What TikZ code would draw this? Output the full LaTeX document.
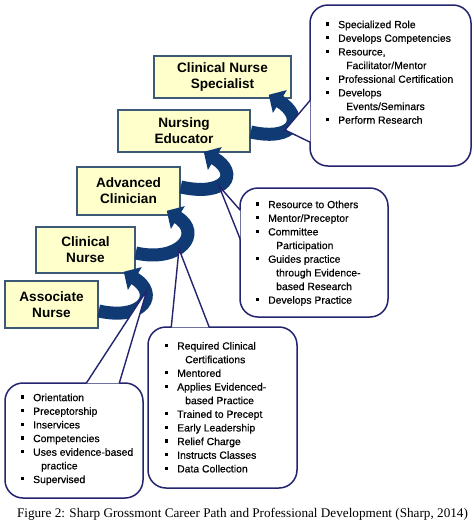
\documentclass[tikz,border=0pt]{standalone}
\usepackage{fontspec}
\setmainfont{Liberation Sans}
\newfontfamily\listfont[FakeBold=0.5]{Liberation Sans}
\newfontfamily\capfont{Liberation Serif}
\usetikzlibrary{arrows.meta,calc}
\definecolor{boxfill}{RGB}{255,255,204}
\definecolor{boxline}{RGB}{60,90,120}
\definecolor{arrowblue}{RGB}{16,58,115}
\definecolor{callline}{RGB}{35,35,110}
\newcommand\bl{\rule[2.6pt]{3.2pt}{3.2pt}}
\newcommand\ct{\hspace*{8pt}}
\begin{document}
\begin{tikzpicture}[x=1pt,y=-1pt,
  stagebox/.style={draw=boxline,line width=1.5pt,fill=boxfill,align=center,
    font=\bfseries\fontsize{13.6}{16}\selectfont,inner sep=0pt},
  flow/.style={draw=arrowblue,line width=13pt,-{Triangle[width=26pt,length=13pt]}},
  callout/.style={draw=callline,line width=1.5pt,fill=white,rounded corners=18pt,inner sep=0pt},
  pointer/.style={draw=callline,fill=white,line width=1.4pt,line join=miter},
  listtext/.style={anchor=north west,inner sep=0pt,font=\listfont\fontsize{10.4}{13.65}\selectfont}
]
\useasboundingbox (0,0) rectangle (474,520);

% stage boxes
\node[stagebox,minimum width=137pt,minimum height=42pt] (cns) at (222.5,77) {Clinical Nurse\\Specialist};
\node[stagebox,minimum width=132pt,minimum height=42pt] (ne) at (184,131) {Nursing\\Educator};
\node[stagebox,minimum width=103pt,minimum height=48pt] (ac) at (128.5,191) {Advanced\\Clinician};
\node[stagebox,minimum width=99pt,minimum height=46pt] (cn) at (85.5,250) {Clinical\\Nurse};
\node[stagebox,minimum width=93pt,minimum height=47pt] (an) at (51.5,304.5) {Associate\\Nurse};

% curved arrows
\coordinate (s1) at ($(an.east)+(0,6.5)$);  \coordinate (e1) at ($(cn.south east)+(-12,-2)$);
\coordinate (s2) at ($(cn.east)+(0,3)$);    \coordinate (e2) at ($(ac.south east)+(-14,-5)$);
\coordinate (s3) at ($(ac.east)+(0,-4)$);   \coordinate (e3) at ($(ne.south east)+(-47,-1)$);
\coordinate (s4) at ($(ne.east)+(0,1)$);    \coordinate (e4) at ($(cns.south east)+(-23,-4)$);
\foreach \i in {1,2,3,4}{
  \draw[flow] (s\i) .. controls ($(s\i)+(45,10)$) and ($(e\i)+(36,22)$) .. (e\i);
}

% callouts
\node[callout,minimum width=161pt,minimum height=161pt] (tr) at (390.5,85.5) {};
\node[callout,minimum width=148pt,minimum height=129pt] (mr) at (314,252.5) {};
\node[callout,minimum width=149pt,minimum height=161pt] (ml) at (222.5,407.5) {};
\node[callout,minimum width=138pt,minimum height=115pt] (bl) at (74,440.5) {};

\coordinate (ptr) at (285,130);
\coordinate (pmr) at (219,186);
\coordinate (pml) at (179,249);
\coordinate (pbl) at (147,290);

\filldraw[pointer] ($(tr.north west)+(1,96)$) -- (ptr) -- ($(tr.north west)+(1,138)$);
\filldraw[pointer] ($(mr.north west)+(1,23)$) -- (pmr) -- ($(mr.north west)+(1,52)$);
\filldraw[pointer] ($(ml.north west)+(24,1)$) -- (pml) -- ($(ml.north west)+(62,1)$);
\filldraw[pointer] ($(bl.north west)+(82,1)$) -- (pbl) -- ($(bl.north west)+(115,1)$);

% callout texts
\node[listtext] (trt) at (326,18.4) {\begin{tabular}{@{}p{12pt}@{}l@{}}
\bl & Specialized Role\\
\bl & Develops Competencies\\
\bl & Resource,\\
    & \ct Facilitator/Mentor\\
\bl & Professional Certification\\
\bl & Develops\\
    & \ct Events/Seminars\\
\bl & Perform Research
\end{tabular}};
\node[listtext] (mrt) at (256,198.4) {\begin{tabular}{@{}p{12pt}@{}l@{}}
\bl & Resource to Others\\
\bl & Mentor/Preceptor\\
\bl & Committee\\
    & \ct Participation\\
\bl & Guides practice\\
    & \ct through Evidence-\\
    & \ct based Research\\
\bl & Develops Practice
\end{tabular}};
\node[listtext] (mlt) at (165,339.8) {\begin{tabular}{@{}p{12pt}@{}l@{}}
\bl & Required Clinical\\
    & \ct Certifications\\
\bl & Mentored\\
\bl & Applies Evidenced-\\
    & \ct based Practice\\
\bl & Trained to Precept\\
\bl & Early Leadership\\
\bl & Relief Charge\\
\bl & Instructs Classes\\
\bl & Data Collection
\end{tabular}};
\node[listtext] (blt) at (21,391.4) {\begin{tabular}{@{}p{12pt}@{}l@{}}
\bl & Orientation\\
\bl & Preceptorship\\
\bl & Inservices\\
\bl & Competencies\\
\bl & Uses evidence-based\\
    & \ct practice\\
\bl & Supervised
\end{tabular}};

% caption
\node[anchor=base,inner sep=0pt,font=\capfont\fontsize{13.2}{15}\selectfont] (cap) at (242.5,517)
  {Figure 2: Sharp Grossmont Career Path and Professional Development (Sharp, 2014)};
\end{tikzpicture}
\end{document}
